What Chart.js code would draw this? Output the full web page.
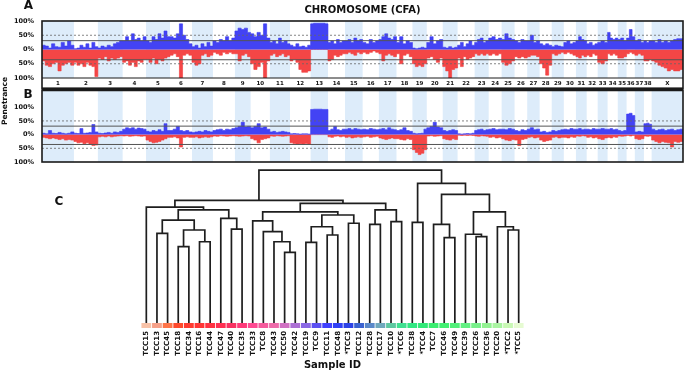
<!DOCTYPE html>
<html>
<head>
<meta charset="utf-8">
<script src="https://cdn.jsdelivr.net/npm/chart.js@4.4.1/dist/chart.umd.min.js"></script>
<style>
  body { margin: 0; background: #fff; width: 685px; height: 371px; position: relative; overflow: hidden; font-family: "DejaVu Sans", sans-serif; }
  .box { position: absolute; left: 0; width: 685px; }
  .lbl { position: absolute; font-weight: bold; color: #111; line-height: 1; transform: translate(-50%, -50%); white-space: nowrap; }
</style>
</head>
<body>
<div class="box" style="top:0;height:89px"><canvas id="chartA"></canvas></div>
<div class="box" style="top:89px;height:75px"><canvas id="chartB"></canvas></div>
<div class="box" style="top:165px;height:206px"><canvas id="chartC"></canvas></div>
<div class="lbl" style="left:28.5px;top:5px;font-size:12px">A</div>
<div class="lbl" style="left:28px;top:94px;font-size:12px">B</div>
<div class="lbl" style="left:59px;top:201px;font-size:12px">C</div>
<div class="lbl" style="left:4.5px;top:101px;font-size:7.5px;transform:translate(-50%,-50%) rotate(-90deg)">Penetrance</div>
<script>
// chromosomes (CFA) and their lengths, Mb
const chromLabels = ['1','2','3','4','5','6','7','8','9','10','11','12','13','14','15','16','17','18','19','20',
  '21','22','23','24','25','26','27','28','29','30','31','32','33','34','35','36','37','38','X'];
const chromLengthMb = [116, 87, 90, 85, 87, 80, 76, 80, 57, 70, 73, 75, 63, 62, 64, 59, 64, 58, 52, 58,
  54, 62, 51, 47, 47, 46, 45, 44, 44, 44, 39, 40, 36, 37, 32, 30, 33, 28, 114];

// penetrance (%) per chromosome, bins evenly spread along each chromosome
const gainA = [
  [15, 12, 5, 20, 10, 8, 25, 12, 30, 15], [3, 5, 15, 8, 20, 5, 25, 10], [5, 12, 8, 15, 10, 20, 25, 30],
  [30, 45, 30, 55, 35, 40, 30, 45], [30, 25, 45, 35, 55, 40, 65, 45], [45, 40, 55, 90, 50, 35, 20],
  [10, 15, 5, 20, 10, 25, 12], [30, 25, 35, 30, 45, 30, 40], [65, 75, 70, 75, 60],
  [55, 45, 60, 50, 90, 40], [25, 30, 20, 40, 25, 30, 20], [15, 10, 20, 10, 12, 8, 15],
  [90, 92, 92, 92, 92, 90], [25, 30, 20, 35, 25, 30], [30, 35, 25, 40, 30, 35], [25, 20, 35, 25, 30],
  [35, 45, 55, 40, 35, 45], [25, 45, 20, 30, 25], [5, 3, 5, 8, 5], [25, 45, 20, 30, 35],
  [8, 5, 10, 5, 8], [15, 25, 10, 20, 30, 15], [25, 35, 40, 25, 30], [40, 45, 35, 40],
  [35, 55, 40, 35], [30, 25, 35, 30], [30, 50, 25, 30], [20, 15, 20, 15], [10, 15, 12, 10],
  [25, 30, 20, 25], [30, 45, 35, 30], [20, 25, 15, 20], [25, 30, 25], [60, 40, 35, 40],
  [35, 40, 30], [40, 70, 45], [30, 35, 25], [30, 25, 30], [30, 25, 35, 25, 30, 25, 30, 35, 38, 38]
];
const lossA = [
  [40, 55, 60, 50, 45, 75, 55, 50, 45, 55], [45, 55, 50, 60, 45, 55, 60, 95], [30, 35, 25, 40, 30, 35, 30, 25],
  [45, 40, 55, 45, 60, 40, 45, 35], [35, 45, 30, 50, 35, 40, 30, 25], [20, 15, 25, 100, 20, 15, 20],
  [45, 55, 50, 20, 15, 25, 20], [10, 15, 20, 10, 15, 10, 15], [15, 40, 20, 15, 25],
  [50, 70, 60, 45, 100, 40], [20, 15, 25, 20, 15, 25, 20], [40, 35, 45, 70, 80, 80, 75],
  [0, 0, 0, 0, 0, 0], [40, 35, 20, 25, 20, 15], [15, 10, 15, 20, 10, 15], [10, 15, 10, 5, 10],
  [15, 40, 20, 15, 20, 25], [15, 50, 20, 15, 25], [50, 60, 55, 60, 50], [30, 25, 35, 45, 30],
  [60, 75, 100, 70, 65], [30, 60, 25, 35, 30, 25], [15, 20, 15, 20, 15], [20, 15, 20, 15],
  [45, 55, 50, 40], [25, 30, 25, 30], [25, 20, 20, 25], [50, 65, 90, 55], [15, 20, 15, 10],
  [15, 10, 15, 20], [25, 30, 20, 25], [20, 25, 15, 20], [45, 50, 40], [15, 20, 15, 20],
  [30, 30, 25], [15, 10, 15], [20, 15, 20], [40, 40, 35], [40, 45, 55, 60, 65, 75, 70, 75, 75, 70]
];
const gainB = [
  [5, 3, 15, 5, 4, 8, 5, 3, 5, 10], [5, 4, 22, 5, 6, 8, 37, 10], [5, 4, 6, 8, 5, 10, 8, 12],
  [20, 25, 22, 25, 20, 24, 22, 20], [12, 10, 15, 12, 18, 12, 40, 15], [15, 20, 30, 15, 12, 15, 10],
  [8, 10, 12, 10, 15, 12, 10], [15, 18, 20, 15, 20, 18, 22], [25, 30, 45, 28, 30],
  [25, 30, 40, 25, 28, 20], [10, 12, 8, 10, 12, 10, 8], [3, 4, 3, 2, 3, 3, 2],
  [92, 93, 93, 93, 92, 92], [15, 20, 30, 18, 15, 20], [20, 22, 18, 22, 20, 18], [20, 18, 22, 20, 18],
  [20, 22, 18, 25, 20, 18], [15, 18, 25, 15, 12], [5, 3, 4, 5, 20], [25, 30, 45, 28, 25],
  [15, 12, 15, 18, 15], [3, 2, 3, 4, 3, 5], [15, 18, 20, 15, 18], [20, 22, 18, 20],
  [20, 18, 22, 20], [15, 12, 18, 15], [20, 25, 18, 20], [10, 12, 8, 10], [15, 12, 15, 18],
  [20, 18, 22, 20], [20, 22, 18, 20], [20, 18, 22, 20], [20, 22, 20], [20, 22, 18, 20],
  [15, 12, 15], [75, 78, 70], [10, 12, 10], [40, 42, 38], [20, 15, 18, 20, 15, 18, 20, 15, 18, 20]
];
const lossB = [
  [10, 12, 15, 12, 15, 18, 15, 20, 18, 20], [25, 30, 28, 33, 30, 35, 40, 38], [8, 6, 8, 5, 8, 6, 5, 4],
  [5, 4, 6, 5, 4, 5, 6, 5], [20, 25, 30, 28, 25, 20, 15, 10], [10, 8, 12, 45, 10, 8, 10],
  [10, 8, 12, 10, 8, 10, 8], [5, 6, 4, 5, 6, 5, 4], [5, 6, 5, 4, 5],
  [15, 20, 30, 18, 15, 12], [5, 6, 4, 5, 6, 5, 4], [30, 32, 35, 33, 35, 32, 35],
  [0, 0, 0, 0, 0, 0], [8, 10, 6, 5, 8, 6], [10, 8, 12, 10, 8, 10], [8, 6, 10, 8, 6],
  [12, 15, 18, 15, 12, 15], [15, 18, 20, 15, 18], [55, 65, 73, 68, 55], [5, 4, 6, 5, 4],
  [15, 18, 20, 15, 18], [2, 3, 2, 3, 2, 3], [5, 6, 4, 5, 6], [10, 8, 12, 10],
  [15, 20, 22, 18], [20, 40, 18, 15], [10, 8, 12, 10], [20, 25, 22, 20], [10, 8, 12, 10],
  [10, 12, 8, 10], [5, 6, 4, 5], [10, 8, 12, 10], [15, 18, 12], [10, 12, 8, 10],
  [5, 6, 5], [3, 5, 3], [15, 18, 15], [5, 6, 5], [20, 25, 30, 25, 28, 30, 45, 25, 28, 25]
];
const pctTicks = [-100, -50, 0, 50, 100];
const dashedLevels = [50, -50];
const solidLevels = [31, -36];

// dendrogram: leaves in plotted order, merges as [left, right, height]; nodes 36+ are merges in order
const sampleIds = ['TCC15','TCC13','TCC45','TCC18','TCC34','TCC16','TCC44','TCC47','TCC40','TCC35','TCC33','TCC8',
  'TCC43','TCC50','TCC42','TCC19','TCC9','TCC11','TCC48','*TCC3','TCC12','TCC28','TCC17','TCC10',
  '*TCC6','TCC38','*TCC4','TCC7','TCC46','TCC49','TCC39','TCC26','TCC36','TCC20','*TCC2','*TCC5'];
const leafColors = ['#f8c2a8','#f6a088','#ff7448','#ff4a2c','#ff3a30','#ff3636','#ff3242','#ff3052','#f83262','#ff3a7a',
  '#ff4a92','#f55a9c','#ee6aaa','#d070c2','#ac70d4','#8a68e4','#5c50f2','#4040ff','#3040f6','#2c42e6',
  '#3a62d0','#5a88c8','#70a8bc','#5ec8a0','#40e090','#32e882','#30ea78','#3aee70','#42f072','#52f07a',
  '#62f082','#78f08a','#92f292','#aaf4a2','#c8f8b4','#e6fbd2'];
const merges = [
  [1, 2, 0.586], [3, 4, 0.499], [5, 6, 0.531], [37, 38, 0.608], [36, 39, 0.673], [8, 9, 0.614],
  [7, 41, 0.684], [40, 42, 0.739], [0, 43, 0.758], [13, 14, 0.462], [12, 45, 0.531], [11, 46, 0.597],
  [10, 47, 0.667], [15, 16, 0.527], [17, 18, 0.575], [49, 50, 0.629], [19, 20, 0.652], [51, 52, 0.706],
  [48, 53, 0.727], [21, 22, 0.645], [23, 24, 0.662], [55, 56, 0.739], [54, 57, 0.782], [44, 58, 0.802],
  [25, 26, 0.658], [28, 29, 0.558], [27, 61, 0.645], [31, 32, 0.564], [30, 63, 0.580], [34, 35, 0.608],
  [33, 65, 0.629], [64, 66, 0.727], [62, 67, 0.841], [60, 68, 0.913], [59, 69, 1.0]
];

Chart.defaults.font.family = '"DejaVu Sans", sans-serif';
Chart.defaults.color = '#111';
Chart.defaults.animation = false;

const chromStart = [];
let acc = 0;
chromLengthMb.forEach(l => { chromStart.push(acc); acc += l; });
const genomeLen = acc;
const chromMid = chromStart.map((s, i) => s + chromLengthMb[i] / 2);

function stepPoints(perChrom, sign) {
  const pts = [];
  perChrom.forEach((vals, c) => {
    const w = chromLengthMb[c] / vals.length;
    vals.forEach((v, i) => pts.push({x: chromStart[c] + i * w, y: sign * v}));
  });
  pts.push({x: genomeLen, y: pts[pts.length - 1].y});
  return pts;
}

function bandPoints(lo, hi) {
  const pts = chromStart.map((s, i) => ({x: s, y: i % 2 === 0 ? hi : lo}));
  pts.push({x: genomeLen, y: hi});
  return pts;
}

const framePlugin = {
  id: 'frame',
  afterDraw(chart, args, opts) {
    const {ctx, chartArea: a} = chart;
    ctx.save();
    ctx.strokeStyle = '#1a1a1a';
    ctx.lineWidth = 1.6;
    const bottom = opts.toBottom ? chart.height - 0.8 : a.bottom;
    ctx.strokeRect(a.left, a.top, a.right - a.left, bottom - a.top);
    if (opts.toBottom) {
      ctx.lineWidth = 1;
      ctx.beginPath(); ctx.moveTo(a.left, a.bottom); ctx.lineTo(a.right, a.bottom); ctx.stroke();
    }
    if (opts.thickTop) {
      ctx.lineWidth = 2.6;
      ctx.beginPath(); ctx.moveTo(a.left, a.top); ctx.lineTo(a.right, a.top); ctx.stroke();
    }
    ctx.restore();
  }
};

function penetranceChart(id, gain, loss, yMax, isTop) {
  const levelSets = [];
  dashedLevels.forEach(v => levelSets.push({data: [{x: 0, y: v}, {x: genomeLen, y: v}], borderColor: '#666',
    borderWidth: 0.8, borderDash: [2, 2], pointRadius: 0, fill: false, order: 1}));
  solidLevels.forEach(v => levelSets.push({data: [{x: 0, y: v}, {x: genomeLen, y: v}], borderColor: '#555',
    borderWidth: 1, pointRadius: 0, fill: false, order: 1}));
  return new Chart(document.getElementById(id), {
    type: 'line',
    data: {
      datasets: [
        {data: bandPoints(-100, yMax), stepped: true, fill: 'start', backgroundColor: '#ddecfa',
          borderWidth: 0, pointRadius: 0, order: 10},
        {data: stepPoints(gain, 1), stepped: true, fill: 'origin', backgroundColor: '#4343f4',
          borderColor: '#3a3af0', borderWidth: 0.6, pointRadius: 0, order: 5},
        {data: stepPoints(loss, -1), stepped: true, fill: 'origin', backgroundColor: '#f44646',
          borderColor: '#f03c3c', borderWidth: 0.6, pointRadius: 0, order: 5},
        ...levelSets
      ]
    },
    options: {
      responsive: true,
      maintainAspectRatio: false,
      layout: {padding: isTop ? {left: 0, right: 2, top: 0, bottom: 0} : {left: 0, right: 2, top: 1, bottom: 2}},
      plugins: {
        legend: {display: false},
        tooltip: {enabled: false},
        title: {display: isTop, text: 'CHROMOSOME (CFA)', fullSize: false, font: {size: 10, weight: 'bold'},
          color: '#111', padding: {top: 4, bottom: 5}},
        frame: {toBottom: isTop, thickTop: !isTop}
      },
      scales: {
        x: {
          type: 'linear', min: 0, max: genomeLen, display: isTop,
          grid: {display: false, drawTicks: false}, border: {display: false},
          afterBuildTicks: s => { s.ticks = chromMid.map(v => ({value: v})); },
          afterFit: s => { s.height = isTop ? 11 : 0; },
          ticks: {autoSkip: false, minRotation: 0, maxRotation: 0, padding: 2.5,
            font: {size: 5.5, weight: 'bold'}, color: '#111', callback: (v, i) => chromLabels[i]}
        },
        y: {
          min: -100, max: yMax,
          // invisible tick marks keep labels off the frame without adding vertical padding
          grid: {display: false, drawTicks: true, tickLength: 8}, border: {display: false},
          afterBuildTicks: s => { s.ticks = pctTicks.map(v => ({value: v})); },
          afterFit: s => { s.width = 42; },
          ticks: {padding: 0, font: {size: 6.5, weight: 'bold', lineHeight: 0.3}, color: '#111',
            callback: v => Math.abs(v) + '%'}
        }
      }
    },
    plugins: [framePlugin]
  });
}

penetranceChart('chartA', gainA, lossA, 100, true);
penetranceChart('chartB', gainB, lossB, 163, false);

// dendrogram links
const nodeX = sampleIds.map((_, i) => i);
const nodeH = sampleIds.map(() => 0);
const linkSets = merges.map(([a, b, h]) => {
  const pts = [{x: nodeX[a], y: nodeH[a]}, {x: nodeX[a], y: h}, {x: nodeX[b], y: h}, {x: nodeX[b], y: nodeH[b]}];
  nodeX.push((nodeX[a] + nodeX[b]) / 2);
  nodeH.push(h);
  return {type: 'line', data: pts, borderColor: '#1e1e1e', borderWidth: 1.7, pointRadius: 0,
    fill: false, tension: 0, order: 1, clip: false};
});

new Chart(document.getElementById('chartC'), {
  type: 'line',
  data: {
    datasets: [
      ...linkSets,
      {type: 'bar', data: sampleIds.map((_, i) => ({x: i, y: [-0.033, 0]})), backgroundColor: leafColors,
        barPercentage: 1, categoryPercentage: 0.92, order: 0}
    ]
  },
  options: {
    responsive: true,
    maintainAspectRatio: false,
    layout: {padding: {left: 141, right: 161, top: 3.5, bottom: 0}},
    plugins: {legend: {display: false}, tooltip: {enabled: false}},
    scales: {
      x: {
        type: 'linear', min: -0.5, max: 35.5, offset: false,
        grid: {display: false, drawTicks: false}, border: {display: false},
        afterBuildTicks: s => { s.ticks = sampleIds.map((_, i) => ({value: i})); },
        afterFit: s => { s.height = 43; },
        ticks: {autoSkip: false, minRotation: 90, maxRotation: 90, padding: 3,
          font: {size: 7, weight: 'bold'}, color: '#111', callback: (v, i) => sampleIds[i]},
        title: {display: true, text: 'Sample ID', font: {size: 10, weight: 'bold'}, color: '#111',
          padding: {top: 0, bottom: 0}}
      },
      y: {display: false, min: -0.033, max: 1.01}
    }
  }
});
</script>
</body>
</html>
